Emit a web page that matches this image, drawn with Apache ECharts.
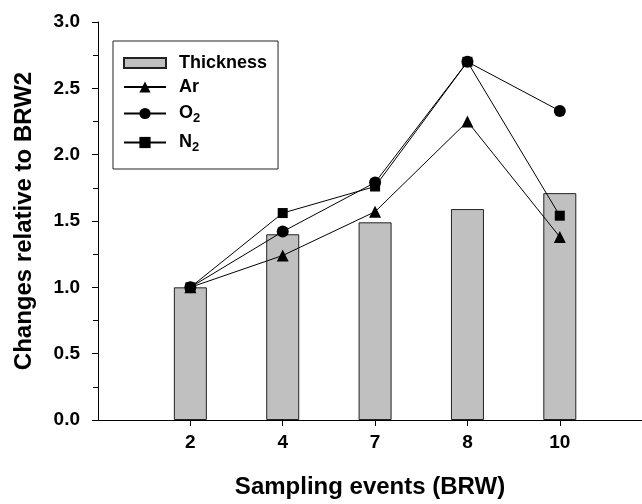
<!DOCTYPE html>
<html>
<head>
<meta charset="utf-8">
<script src="https://cdn.jsdelivr.net/npm/echarts@6/dist/echarts.min.js"></script>
<style>
  html, body { margin: 0; padding: 0; background: #fff; }
  #chart { width: 642px; height: 504px; }
</style>
</head>
<body>
<div id="chart"></div>
<script>
const categories = ['2', '4', '7', '8', '10'];
const thickness = [1.00, 1.40, 1.49, 1.59, 1.71];
const ar = [1.00, 1.24, 1.57, 2.25, 1.38];
const o2 = [1.00, 1.42, 1.79, 2.70, 2.33];
const n2 = [1.00, 1.56, 1.76, 2.70, 1.54];
const yTicks = [0, 0.5, 1.0, 1.5, 2.0, 2.5, 3.0];

const FONT = 'Arial, "Liberation Sans", Helvetica, sans-serif';
const positions = categories.map((c, i) => i + 1);
const pairs = arr => arr.map((v, i) => [positions[i], v]);

const chart = echarts.init(document.getElementById('chart'), null, { renderer: 'canvas' });

const lineSeries = (name, data, symbol, size) => ({
  name: name,
  type: 'line',
  data: pairs(data),
  symbol: symbol,
  symbolSize: size,
  z: 5,
  lineStyle: { color: '#000', width: 1 },
  itemStyle: { color: '#000' },
  emphasis: { disabled: true },
  animation: false
});

chart.setOption({
  animation: false,
  backgroundColor: '#fff',
  grid: { left: 98, right: 0, top: 22, bottom: 83, containLabel: false },
  legend: {
    orient: 'vertical',
    left: 113,
    top: 41,
    padding: [13, 11, 15, 10],
    itemGap: 6,
    itemWidth: 42,
    itemHeight: 14,
    borderColor: '#222',
    borderWidth: 1,
    backgroundColor: '#fff',
    selectedMode: false,
    data: [
      { name: 'Thickness', icon: 'path://M0,0H42V10H0Z' },
      'Ar', 'O2', 'N2'
    ],
    formatter: name => name.replace(/(\d)$/, '{sub|$1}'),
    textStyle: {
      fontFamily: FONT,
      fontWeight: 'bold',
      fontSize: 18,
      lineHeight: 18,
      color: '#000',
      padding: [0, 0, 0, 8],
      rich: {
        sub: {
          fontFamily: FONT,
          fontWeight: 'bold',
          fontSize: 13,
          lineHeight: 13,
          color: '#000',
          padding: [10, 0, 0, 0]
        }
      }
    }
  },
  xAxis: {
    type: 'value',
    min: 0,
    max: 5.89,
    name: 'Sampling events (BRW)',
    nameLocation: 'middle',
    nameGap: 55,
    nameTextStyle: { fontFamily: FONT, fontWeight: 'bold', fontSize: 24, color: '#000' },
    axisLine: { show: true, onZero: false, lineStyle: { color: '#000', width: 1 } },
    axisTick: { show: true, length: 6, lineStyle: { color: '#000' }, customValues: positions },
    axisLabel: {
      customValues: positions,
      formatter: v => categories[Math.round(v) - 1] || '',
      fontFamily: FONT, fontWeight: 'bold', fontSize: 19, color: '#000', margin: 13
    },
    splitLine: { show: false }
  },
  yAxis: {
    type: 'value',
    min: 0,
    max: 3,
    interval: 0.5,
    name: 'Changes relative to BRW2',
    nameLocation: 'middle',
    nameRotate: 90,
    nameGap: 62,
    nameTextStyle: { fontFamily: FONT, fontWeight: 'bold', fontSize: 24, color: '#000' },
    axisLine: { show: true, lineStyle: { color: '#000', width: 1 } },
    axisTick: { show: true, length: 6, lineStyle: { color: '#000' } },
    minorTick: { show: true, splitNumber: 2, length: 5, lineStyle: { color: '#000' } },
    axisLabel: {
      formatter: v => yTicks.includes(v) ? v.toFixed(1) : '',
      fontFamily: FONT, fontWeight: 'bold', fontSize: 19, color: '#000', margin: 18
    },
    splitLine: { show: false },
    minorSplitLine: { show: false }
  },
  series: [
    {
      name: 'Thickness',
      type: 'bar',
      data: pairs(thickness),
      barWidth: 33,
      z: 2,
      itemStyle: { color: '#c0c0c0', borderColor: '#222', borderWidth: 1 },
      emphasis: { disabled: true },
      animation: false
    },
    lineSeries('Ar', ar, 'triangle', 12),
    lineSeries('O2', o2, 'circle', 12),
    lineSeries('N2', n2, 'rect', 10)
  ]
});
</script>
</body>
</html>
